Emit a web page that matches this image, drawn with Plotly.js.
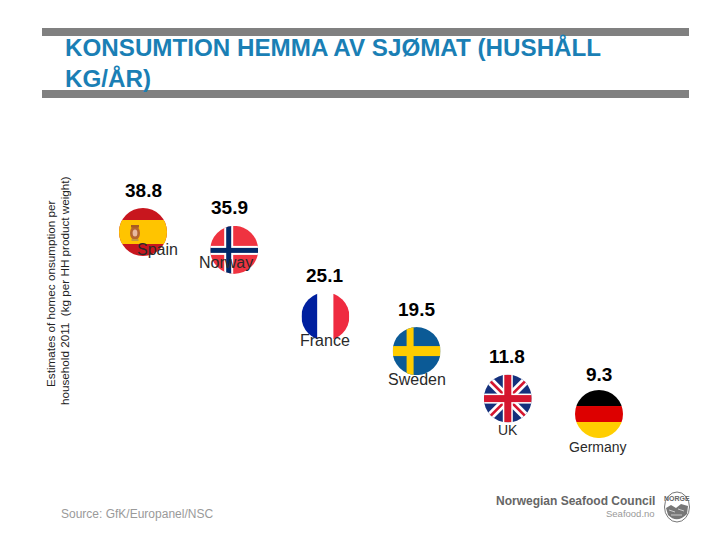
<!DOCTYPE html>
<html><head><meta charset="utf-8">
<script src="https://cdn.plot.ly/plotly-3.0.1.min.js"></script>
<style>html,body{margin:0;padding:0;background:#fff}#c{width:720px;height:540px}</style>
</head><body><div id="c"></div>
<script>
const countries = ["Spain","Norway","France","Sweden","UK","Germany"];
const values = [38.8,35.9,25.1,19.5,11.8,9.3];
const valueLabels = ["38.8","35.9","25.1","19.5","11.8","9.3"];
const positions = [0,1,2,3,4,5];
const titleText = "KONSUMTION HEMMA AV SJØMAT (HUSHÅLL<br>KG/ÅR)";
const yTitleLines = ["Estimates of homec onsumption per","household 2011  (kg per HH product weight)"];
const sourceText = "Source: GfK/Europanel/NSC";

const valueOffsets = [[0,42],[-5,42],[-1,41],[0,42],[-1,42],[0,40]];
const labelOffsets = [[14,-17],[-8,-13],[0,-24],[0,-28],[0,-31],[-1,-33]];
const labelSizes = [16,16,16,16,14,14];

const disc = inner => 'data:image/svg+xml;charset=utf-8,' + encodeURIComponent(
 '<svg xmlns="http://www.w3.org/2000/svg" width="96" height="96" viewBox="0 0 48 48">' +
 '<defs><clipPath id="k"><circle cx="24" cy="24" r="24"/></clipPath></defs><g clip-path="url(#k)">' + inner + '</g></svg>');
const r = (x,y,w,h,f) => `<rect x="${x}" y="${y}" width="${w}" height="${h}" fill="${f}"/>`;
const flags = {
 Spain: disc(r(0,0,48,48,'#C8161E')+r(0,12,48,24,'#FFC400')+
   '<ellipse cx="16" cy="25" rx="5" ry="7" fill="#B5652F"/><ellipse cx="16" cy="25" rx="2.4" ry="3.6" fill="#E8B9A0"/><rect x="12" y="17" width="8" height="2.6" fill="#A65A22"/><rect x="12.5" y="31" width="7" height="2" fill="#C49A3C"/>'),
 Norway: disc(r(0,0,48,48,'#EF3340')+r(14,0,9,48,'#fff')+r(0,20,48,9,'#fff')+r(16,0,5,48,'#002868')+r(0,22,48,5,'#002868')),
 France: disc(r(0,0,16,48,'#00209F')+r(16,0,16,48,'#fff')+r(32,0,16,48,'#EF2B40')),
 Sweden: disc(r(0,0,48,48,'#0B5A96')+r(14,0,7,48,'#FFCC00')+r(0,19,48,10,'#FFCC00')),
 UK: disc(r(0,0,48,48,'#14307C')+
   '<path d="M0 0L48 48M48 0L0 48" stroke="#fff" stroke-width="8"/><path d="M0 0L48 48M48 0L0 48" stroke="#D5162F" stroke-width="2.6"/>'+
   r(19,0,10,48,'#fff')+r(0,19,48,10,'#fff')+r(20.5,0,7,48,'#D5162F')+r(0,20.5,48,7,'#D5162F')),
 Germany: disc(r(0,0,48,16,'#000')+r(0,16,48,16,'#DD0000')+r(0,32,48,16,'#FFCE00'))
};
const emblem = 'data:image/svg+xml;charset=utf-8,' + encodeURIComponent(
 '<svg xmlns="http://www.w3.org/2000/svg" width="56" height="64" viewBox="0 0 28 32">' +
 '<ellipse cx="14" cy="16" rx="12.5" ry="15" fill="#fff" stroke="#777" stroke-width="1"/>' +
 '<path d="M3 17 L8 14 L13 17 L18 13 L25 15 L24 23 Q14 33 5 24 Z" fill="#777"/>' +
 '<path d="M6 19 L12 21 M15 18 L21 20 M8 24 L19 24" stroke="#ccc" stroke-width="1"/></svg>');

const fontFamily = 'Arial, "Liberation Sans", sans-serif';
const PX_X = 91.2, PX_Y = 6.17;
const flagW = 48/PX_X, flagH = 48/PX_Y;

const trace = {
  type:'scatter', mode:'markers', x:positions, y:values, text:countries,
  marker:{size:48, color:'rgba(0,0,0,0)', line:{width:0}},
  hoverinfo:'text', showlegend:false
};

const annotations = [];
countries.forEach((c,i)=>{
  annotations.push({x:positions[i], y:values[i], xref:'x', yref:'y', text:valueLabels[i], showarrow:false,
    xshift:valueOffsets[i][0], yshift:valueOffsets[i][1], xanchor:'center', yanchor:'middle',
    font:{family:fontFamily,size:19,color:'#000',weight:700}});
  annotations.push({x:positions[i], y:values[i], xref:'x', yref:'y', text:c, showarrow:false,
    xshift:labelOffsets[i][0], yshift:labelOffsets[i][1], xanchor:'center', yanchor:'middle',
    font:{family:fontFamily,size:labelSizes[i],color:'#2a2a2a'}});
});
yTitleLines.forEach((t,i)=>annotations.push(
 {xref:'paper',yref:'paper',x:[50,64][i]/720,y:1-[294,291][i]/540,text:t,textangle:-90,showarrow:false,xanchor:'center',yanchor:'middle',
  font:{family:fontFamily,size:11.7,color:'#222'}}));
annotations.push(
 {xref:'paper',yref:'paper',x:59/720,y:1-514/540,text:sourceText,showarrow:false,xanchor:'left',yanchor:'middle',
  font:{family:fontFamily,size:12,color:'#9a9a9a'}},
 {xref:'paper',yref:'paper',x:657/720,y:1-501/540,text:'Norwegian Seafood Council',showarrow:false,xanchor:'right',yanchor:'middle',
  font:{family:fontFamily,size:12,color:'#666',weight:700}},
 {xref:'paper',yref:'paper',x:657/720,y:1-513/540,text:'Seafood.no',showarrow:false,xanchor:'right',yanchor:'middle',
  font:{family:fontFamily,size:9.5,color:'#999'}},
 {xref:'paper',yref:'paper',x:677/720,y:1-498/540,text:'NORGE',showarrow:false,xanchor:'center',yanchor:'middle',
  font:{family:fontFamily,size:7,color:'#666',weight:700}}
);

const images = countries.map((c,i)=>({
  source:flags[c], xref:'x', yref:'y', x:positions[i], y:values[i],
  sizex:flagW, sizey:flagH, xanchor:'center', yanchor:'middle', sizing:'stretch', layer:'below'
}));
images.push({source:emblem,xref:'paper',yref:'paper',x:677/720,y:1-507/540,sizex:28/720,sizey:32/540,xanchor:'center',yanchor:'middle',sizing:'stretch',layer:'below'});

const bar = (y0,y1)=>({type:'rect',xref:'paper',yref:'paper',x0:42/720,x1:689/720,y0:1-y1/540,y1:1-y0/540,fillcolor:'#808080',line:{width:0},layer:'above'});

const layout = {
  width:720,height:540,margin:{l:0,r:0,t:0,b:0},
  paper_bgcolor:'#fff',plot_bgcolor:'rgba(0,0,0,0)',showlegend:false,hovermode:'closest',
  title:{text:titleText,x:65/720,xanchor:'left',xref:'container',y:1-56/540,yanchor:'top',yref:'container',
    font:{family:fontFamily,size:24.2,color:'#1A7FB5',weight:700}},
  xaxis:{visible:false,range:[-143/PX_X,(720-143)/PX_X],fixedrange:true},
  yaxis:{visible:false,range:[38.8-(540-232)/PX_Y,38.8+232/PX_Y],fixedrange:true},
  shapes:[bar(28,36),bar(90,98)],
  annotations,images
};
Plotly.newPlot('c',[trace],layout,{displayModeBar:false});
</script></body></html>
